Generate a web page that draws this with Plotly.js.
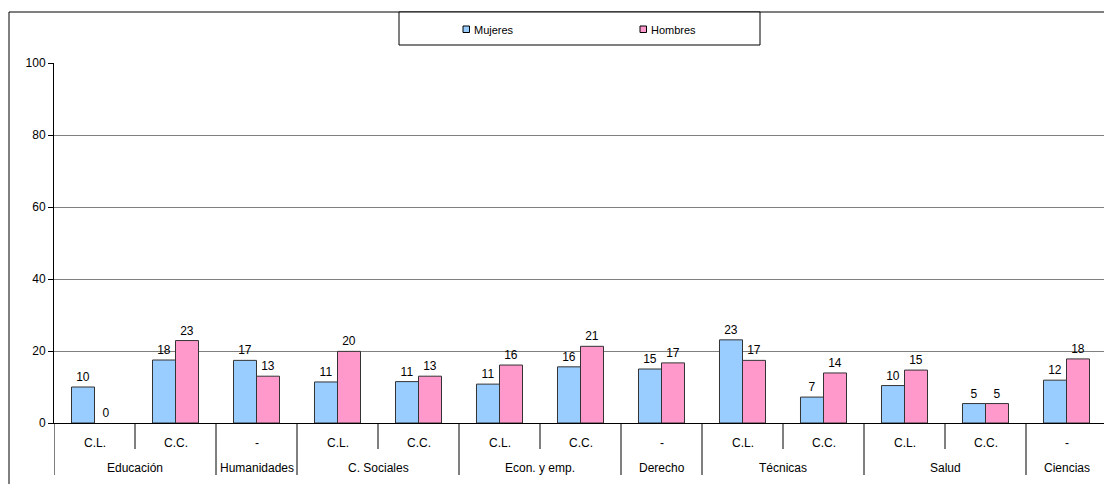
<!DOCTYPE html>
<html>
<head>
<meta charset="utf-8">
<script src="https://cdn.plot.ly/plotly-3.0.1.min.js"></script>
<style>html,body{margin:0;padding:0;background:#fff;}#chart{width:1104px;height:484px;}</style>
</head>
<body>
<div id="chart"></div>
<script>
// ---- data ----
var groups = ['Educación','Educación','Humanidades','C. Sociales','C. Sociales','Econ. y emp.','Econ. y emp.','Derecho','Técnicas','Técnicas','Salud','Salud','Ciencias'];
var subs = ['C.L.','C.C.','-','C.L.','C.C.','C.L.','C.C.','-','C.L.','C.C.','C.L.','C.C.','-'];
var mujeres = [10.0, 17.5, 17.4, 11.4, 11.5, 10.8, 15.6, 15.0, 23.1, 7.2, 10.4, 5.4, 11.9];
var hombres = [0, 22.9, 13.0, 19.9, 13.0, 16.1, 21.3, 16.7, 17.4, 13.9, 14.7, 5.4, 17.8];
var mujeresLabels = ['10','18','17','11','11','11','16','15','23','7','10','5','12'];
var hombresLabels = ['0','23','13','20','13','16','21','17','17','14','15','5','18'];
var seriesNames = ['Mujeres','Hombres'];
var colMuj = '#99CCFF', colHom = '#FF99CC';

// ---- geometry helpers (pixel -> paper) ----
var L = 54, T = 63, W = 1050, H = 360;
function px(p){ return (p - L) / W; }
function py(q){ return (T + H - q) / H; }

var idx = subs.map(function(_, i){ return i; });
var font = {family: 'Liberation Sans, Arial, sans-serif', size: 12, color: '#000000'};
function outlineWidths(vals){ return vals.map(function(v){ return v > 0 ? 1 : 0; }); }

var traces = [
  {type:'bar', name:seriesNames[0], x:idx, y:mujeres, text:mujeresLabels, textposition:'outside',
   textfont:font, outsidetextfont:font, cliponaxis:false,
   marker:{color:colMuj, line:{color:'#333', width:outlineWidths(mujeres)}}, hoverinfo:'none'},
  {type:'bar', name:seriesNames[1], x:idx, y:hombres, text:hombresLabels, textposition:'outside',
   textfont:font, outsidetextfont:font, cliponaxis:false,
   marker:{color:colHom, line:{color:'#333', width:outlineWidths(hombres)}}, hoverinfo:'none'}
];

var shapes = [], annotations = [];
// chart border (left + top)
shapes.push({type:'line', xref:'paper', yref:'paper', x0:px(9), x1:px(9), y0:py(12), y1:py(500), line:{color:'#000', width:1}});
shapes.push({type:'line', xref:'paper', yref:'paper', x0:px(9), x1:px(1110), y0:py(12), y1:py(12), line:{color:'#000', width:1}});
// legend box
shapes.push({type:'rect', xref:'paper', yref:'paper', x0:px(399), x1:px(760), y0:py(12), y1:py(45), line:{color:'#000', width:1}, fillcolor:'#fff'});
shapes.push({type:'rect', xref:'paper', yref:'paper', x0:px(463), x1:px(469.5), y0:py(26), y1:py(32.5), line:{color:'#000', width:1}, fillcolor:colMuj});
shapes.push({type:'rect', xref:'paper', yref:'paper', x0:px(640), x1:px(646.5), y0:py(26), y1:py(32.5), line:{color:'#000', width:1}, fillcolor:colHom});
annotations.push({xref:'paper', yref:'paper', x:px(472), y:py(29.5), xanchor:'left', yanchor:'middle', text:seriesNames[0], showarrow:false, font:{family:font.family, size:11, color:'#000'}});
annotations.push({xref:'paper', yref:'paper', x:px(649), y:py(29.5), xanchor:'left', yanchor:'middle', text:seriesNames[1], showarrow:false, font:{family:font.family, size:11, color:'#000'}});

// left axis extension
shapes.push({type:'line', xref:'x', yref:'paper', x0:-0.5, x1:-0.5, y0:0, y1:py(475), line:{color:'#000', width:1}});
// sub labels + dividers
for (var i = 0; i < subs.length; i++) {
  annotations.push({xref:'x', yref:'paper', x:i, y:py(443), yanchor:'middle', text:subs[i], showarrow:false, font:font});
  if (i > 0) {
    var sameGroup = groups[i] === groups[i-1];
    shapes.push({type:'line', xref:'x', yref:'paper', x0:i-0.5, x1:i-0.5, y0:0, y1: sameGroup ? py(449) : py(475),
      line:{color:'#000', width:1}});
  }
}
// group labels
var start = 0;
for (var j = 1; j <= groups.length; j++) {
  if (j === groups.length || groups[j] !== groups[start]) {
    annotations.push({xref:'x', yref:'paper', x:(start + j - 1)/2, y:py(468), yanchor:'middle', text:groups[start], showarrow:false, font:font});
    start = j;
  }
}

var layout = {
  width:1104, height:484,
  margin:{l:L, r:0, t:T, b:484 - T - H, pad:0},
  paper_bgcolor:'#fff', plot_bgcolor:'#fff',
  showlegend:false,
  barmode:'group', bargap:0.432, bargroupgap:0,
  font:font,
  xaxis:{range:[-0.5, 12.463], showticklabels:false, showgrid:false, zeroline:false, showline:true, linecolor:'#000', linewidth:1, ticks:'', fixedrange:true},
  yaxis:{range:[0,100], dtick:20, tick0:0, showgrid:true, gridcolor:'#808080', gridwidth:1, zeroline:false,
    showline:true, linecolor:'#000', linewidth:1, ticks:'outside', ticklen:5, tickcolor:'#000', tickfont:font, fixedrange:true},
  shapes:shapes, annotations:annotations
};

Plotly.newPlot('chart', traces, layout, {displayModeBar:false, staticPlot:true});
</script>
</body>
</html>
